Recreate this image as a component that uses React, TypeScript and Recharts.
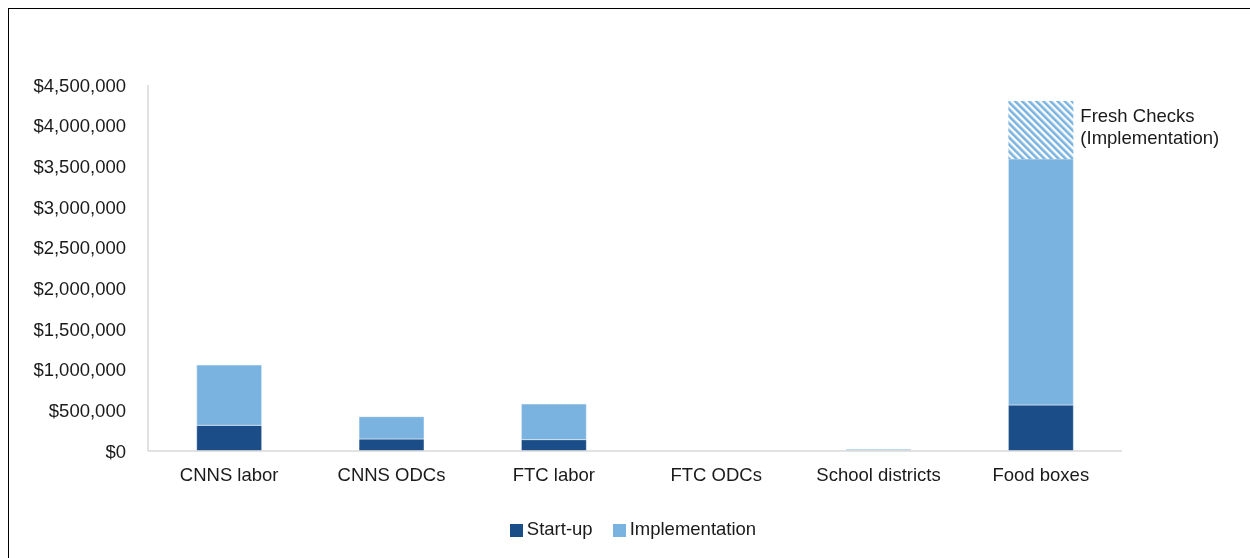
import { BarChart, Bar, XAxis, YAxis, Legend, LabelList } from 'recharts';

const categories = ['CNNS labor', 'CNNS ODCs', 'FTC labor', 'FTC ODCs', 'School districts', 'Food boxes'];
const startUp = [316000, 148000, 140000, 1000, 6000, 566000];
const implementation = [741000, 274000, 438000, 3000, 16000, 3024000];
const freshChecks = [0, 0, 0, 0, 0, 713000];
const yTicks = [0, 500000, 1000000, 1500000, 2000000, 2500000, 3000000, 3500000, 4000000, 4500000];

const DARK = '#1B4E89';
const LIGHT = '#7AB3E0';
const AXIS = '#D9D9D9';
const FONT = '"Liberation Sans", Arial, sans-serif';

const data = categories.map((name, i) => ({
  name,
  startUp: startUp[i],
  implementation: implementation[i],
  freshChecks: freshChecks[i],
}));

const fmtMoney = (v: number) => '$' + v.toLocaleString('en-US');

function FreshLabel(props: any) {
  const { x, y, width, value } = props;
  if (!value) return null;
  const lx = Number(x) + Number(width) + 7;
  const ly = Number(y);
  return (
    <text x={lx} y={ly} fill="#1a1a1a" fontSize={18.5} fontFamily={FONT}>
      <tspan x={lx} dy={21}>Fresh Checks</tspan>
      <tspan x={lx} dy={22}>(Implementation)</tspan>
    </text>
  );
}

const legendOrder = ['Start-up', 'Implementation'];

export default function App() {
  return (
    <div style={{ position: 'fixed', left: 8, top: 8, width: 1242, height: 550, overflow: 'hidden' }}>
      <div style={{ width: 1300, height: 620, border: '1px solid #000', boxSizing: 'border-box' }}>
        <BarChart
          width={1240}
          height={545}
          data={data}
          margin={{ top: 76, right: 127, left: 0, bottom: 14 }}
          barCategoryGap="30%"
          style={{ fontFamily: FONT }}
        >
          <defs>
            <pattern id="freshHatch" patternUnits="userSpaceOnUse" width="5" height="5" patternTransform="rotate(-45)">
              <rect x="0" y="0" width="5" height="5" fill="#fff" />
              <rect x="0" y="0" width="2.6" height="5" fill={LIGHT} />
            </pattern>
          </defs>
          <XAxis
            dataKey="name"
            axisLine={{ stroke: AXIS, strokeWidth: 1.5 }}
            tickLine={false}
            tick={{ fill: '#1a1a1a', fontSize: 18.5, fontFamily: FONT }}
            tickMargin={11}
            height={67}
            interval={0}
          />
          <YAxis
            domain={[0, 4500000]}
            ticks={yTicks}
            tickFormatter={fmtMoney}
            axisLine={{ stroke: AXIS, strokeWidth: 1.5 }}
            tickLine={false}
            tick={{ fill: '#1a1a1a', fontSize: 18.5, fontFamily: FONT }}
            tickMargin={16}
            width={139}
            interval={0}
          />
          <Legend
            verticalAlign="bottom"
            align="center"
            iconType="square"
            iconSize={13}
            wrapperStyle={{ left: 14, width: 1240 }}
            itemSorter={(item: any) => legendOrder.indexOf(item.value)}
            formatter={(v: string) => (
              <span style={{ color: '#1a1a1a', fontSize: 18.5, fontFamily: FONT, marginRight: 10 }}>{v}</span>
            )}
          />
          <Bar dataKey="startUp" name="Start-up" stackId="a" fill={DARK} stroke="#fff" strokeWidth={0.5} isAnimationActive={false} />
          <Bar dataKey="implementation" name="Implementation" stackId="a" fill={LIGHT} stroke="#fff" strokeWidth={0.5} isAnimationActive={false} />
          <Bar dataKey="freshChecks" name="Fresh Checks" stackId="a" fill="url(#freshHatch)" legendType="none" isAnimationActive={false}>
            <LabelList dataKey="freshChecks" content={<FreshLabel />} />
          </Bar>
        </BarChart>
      </div>
    </div>
  );
}
